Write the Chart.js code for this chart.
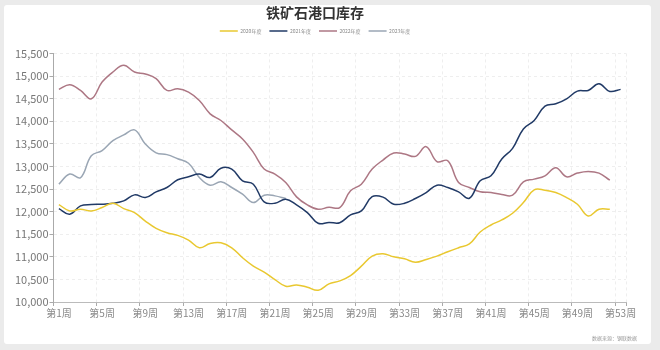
<!DOCTYPE html>
<html>
<head>
<meta charset="utf-8">
<script src="https://cdn.jsdelivr.net/npm/chart.js@4.4.1/dist/chart.umd.min.js"></script>
<style>
  html, body { margin: 0; padding: 0; background: #ebebeb; }
  #card {
    position: absolute; left: 4px; top: 5px;
    width: 647px; height: 339px;
    background: #fff; border-radius: 3px;
  }
</style>
</head>
<body>
<div id="card"><canvas id="stockChart"></canvas></div>
<script>
// weekly port inventory, one array per year
var weeks = [];
for (var i = 1; i <= 53; i++) weeks.push('第' + i + '周');

var y2020 = [12156, 12015, 12052, 12015, 12089, 12185, 12067, 11978, 11790, 11630,
             11533, 11474, 11370, 11200, 11296, 11311, 11200, 10978, 10793, 10659,
             10496, 10348, 10378, 10326, 10259, 10400, 10467, 10585, 10793, 11015,
             11067, 11000, 10956, 10881, 10941, 11015, 11111, 11200, 11285, 11548,
             11704, 11815, 11963, 12200, 12481, 12474, 12422, 12311, 12163, 11904,
             12052, 12052];
var y2021 = [12067, 11941, 12126, 12156, 12163, 12185, 12237, 12370, 12311, 12437,
             12533, 12704, 12770, 12830, 12755, 12960, 12940, 12681, 12607, 12215,
             12185, 12274, 12148, 11978, 11741, 11760, 11755, 11926, 12015, 12330,
             12320, 12163, 12185, 12289, 12422, 12585, 12533, 12437, 12296, 12681,
             12792, 13163, 13400, 13829, 14015, 14333, 14385, 14496, 14666, 14681,
             14829, 14659, 14704];
var y2022 = [14704, 14807, 14681, 14496, 14866, 15089, 15237, 15089, 15044, 14941,
             14681, 14718, 14644, 14459, 14163, 14015, 13807, 13607, 13311, 12941,
             12830, 12644, 12326, 12148, 12052, 12096, 12089, 12459, 12607, 12941,
             13141, 13296, 13274, 13222, 13437, 13104, 13126, 12644, 12533, 12437,
             12422, 12378, 12363, 12659, 12718, 12792, 12970, 12770, 12852, 12889,
             12852, 12696];
var y2023 = [12607, 12830, 12750, 13237, 13350, 13570, 13696, 13807, 13496, 13300,
             13260, 13170, 13070, 12755, 12585, 12659, 12533, 12385, 12200, 12363,
             12348, 12289];

var yearNames = ['2020年度', '2021年度', '2022年度', '2023年度'];
var yearColors = ['#e9c830', '#213a66', '#ad7784', '#9aa6b4'];

var FONT = "'Noto Sans CJK SC', 'Noto Sans', sans-serif";

function series(idx, values) {
  return {
    label: yearNames[idx],
    data: values,
    borderColor: yearColors[idx],
    backgroundColor: yearColors[idx],
    borderWidth: 1.5,
    pointRadius: 0,
    tension: 0.4,
    fill: false
  };
}

// keep every 4th week boundary (plus the closing edge)
function everyFourth(on, off) {
  return function (ctx) {
    return (ctx.index === undefined || ctx.index % 4 === 0) ? on : off;
  };
}

// extra room under the legend before the plot starts
var legendGap = {
  id: 'legendGap',
  beforeLayout: function (chart) {
    if (chart.legend && !chart.legend._gapPatched) {
      var fit = chart.legend.fit;
      chart.legend.fit = function () {
        fit.call(this);
        this.height += 10;
      };
      chart.legend._gapPatched = true;
    }
  }
};

// source note in the bottom-right corner
var sourceNote = {
  id: 'sourceNote',
  afterDraw: function (chart) {
    var c = chart.ctx;
    c.save();
    c.font = '5px ' + FONT;
    c.fillStyle = '#999';
    c.textAlign = 'right';
    c.textBaseline = 'middle';
    c.fillText('数据来源：钢联数据', 633, 333);
    c.restore();
  }
};

new Chart(document.getElementById('stockChart'), {
  type: 'line',
  data: {
    labels: weeks,
    datasets: [series(0, y2020), series(1, y2021), series(2, y2022), series(3, y2023)]
  },
  options: {
    responsive: true,
    maintainAspectRatio: false,
    animation: false,
    layout: { padding: { left: 0, right: 25, top: 0, bottom: 20 } },
    plugins: {
      title: {
        display: true,
        text: '铁矿石港口库存',
        color: '#333',
        font: { family: FONT, size: 14, weight: 'bold', lineHeight: 1.1 },
        padding: { top: 0, bottom: 0 }
      },
      legend: {
        display: true,
        labels: {
          usePointStyle: true,
          pointStyle: 'line',
          pointStyleWidth: 18,
          color: '#888',
          font: { family: FONT, size: 5 },
          padding: 8
        }
      },
      tooltip: { enabled: false }
    },
    scales: {
      x: {
        type: 'category',
        offset: true,
        afterFit: function (scale) { scale.height = 22; },
        grid: {
          offset: true,
          color: everyFourth('#eeeeee', 'rgba(0,0,0,0)'),
          tickColor: everyFourth('#aaa', 'rgba(0,0,0,0)'),
          tickLength: 4
        },
        border: { display: true, color: '#bbb', dash: [3, 3] },
        ticks: {
          autoSkip: false,
          maxRotation: 0,
          padding: 1,
          color: '#888',
          font: { family: FONT, size: 10 },
          callback: function (v, i) { return i % 4 === 0 ? weeks[i] : ''; }
        }
      },
      y: {
        min: 10000,
        max: 15500,
        afterFit: function (scale) { scale.width = 49.5; },
        grid: { color: '#eeeeee', tickColor: '#aaa', tickLength: 4 },
        border: { display: true, color: '#aaa', dash: [3, 3] },
        ticks: {
          stepSize: 500,
          padding: 1,
          color: '#777',
          font: { family: FONT, size: 11 },
          callback: function (v) { return v.toLocaleString('en-US'); }
        }
      }
    }
  },
  plugins: [legendGap, sourceNote]
});
</script>
</body>
</html>
